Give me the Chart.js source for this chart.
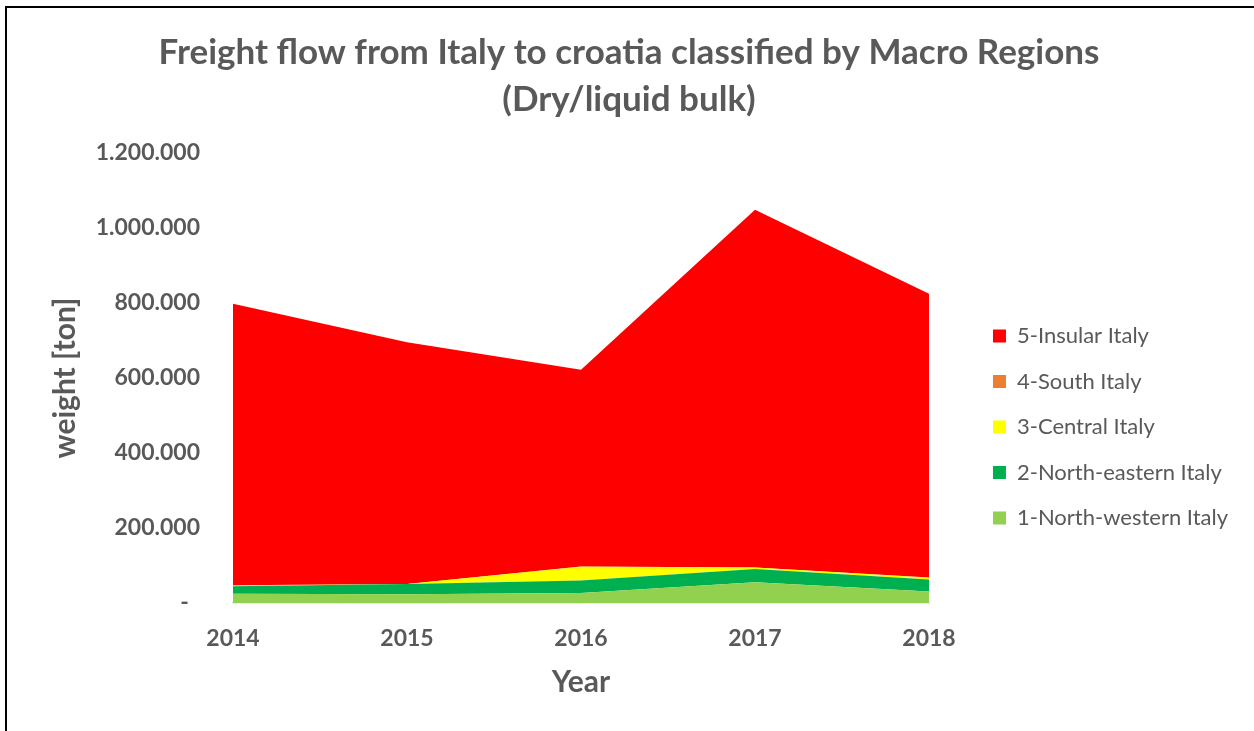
<!DOCTYPE html>
<html>
<head>
<meta charset="utf-8">
<script src="https://cdn.jsdelivr.net/npm/chart.js@4"></script>
<style>
  html, body { margin: 0; overflow: hidden; background: #fff; }
  #marco { position: absolute; left: 5px; top: 6px; width: 1300px; height: 800px; border-left: 2px solid #000; border-top: 2px solid #000; }
  #contenedor { position: absolute; left: 0; top: 0; width: 1254px; height: 731px; }
</style>
</head>
<body>
<div id="marco"></div>
<div id="contenedor"><canvas id="graficoareas"></canvas></div>
<script>
// toneladas por año y macro región (áreas apiladas)
const anios = ['2014', '2015', '2016', '2017', '2018'];
const noroeste = [24500, 23500, 27000, 55500, 31000];
const noreste = [20300, 27500, 33000, 35500, 32000];
const centro = [1500, 0, 37000, 3500, 4500];
const sur = [1000, 0, 500, 500, 500];
const insular = [750700, 644500, 524500, 953500, 756500];

const gris = '#595959';
const margenDerecho = 16;
Chart.defaults.font.family = 'Lato';
Chart.defaults.color = gris;

function puntos(v) {
    if (v === 0) return '-  ';
    return String(v).replace(/\B(?=(\d{3})+(?!\d))/g, '.');
}

function serie(label, data, color, fill) {
    return {
        label: label,
        data: data,
        backgroundColor: color,
        borderColor: color,
        borderWidth: 0,
        pointRadius: 0,
        pointHoverRadius: 0,
        tension: 0,
        fill: fill
    };
}

const ctx = document.getElementById('graficoareas').getContext('2d');
new Chart(ctx, {
    type: 'line',
    data: {
        labels: anios,
        datasets: [
            serie('1-North-western Italy', noroeste, '#92D050', 'origin'),
            serie('2-North-eastern Italy', noreste, '#00B050', '-1'),
            serie('3-Central Italy', centro, '#FFFF00', '-1'),
            serie('4-South Italy', sur, '#ED7D31', '-1'),
            serie('5-Insular Italy', insular, '#FF0000', '-1')
        ]
    },
    options: {
        responsive: true,
        maintainAspectRatio: false,
        animation: false,
        layout: { padding: { left: 20, right: margenDerecho, top: 0, bottom: 0 } },
        plugins: {
            title: {
                display: true,
                text: ['Freight flow from Italy to croatia classified by Macro Regions', '(Dry/liquid bulk)'],
                color: gris,
                font: { size: 35, weight: 'bold', lineHeight: 47 / 35 },
                padding: { top: 29.5, bottom: 29.5 }
            },
            legend: {
                position: 'right',
                align: 'start',
                reverse: true,
                maxWidth: 400,
                title: { display: true, text: ' ', font: { size: 10 }, padding: { top: 289.5, bottom: 0 } },
                labels: {
                    boxWidth: 13,
                    boxHeight: 13,
                    padding: 23.5,
                    color: gris,
                    font: { size: 22 }
                }
            },
            tooltip: { enabled: false }
        },
        scales: {
            x: {
                grid: { display: false, drawTicks: false },
                border: { display: true, color: '#D9D9D9', width: 1.5 },
                ticks: { padding: 22, font: { size: 23, weight: 'bold' }, color: gris },
                title: { display: true, text: 'Year', color: gris, font: { size: 30, weight: 'bold' }, padding: { top: 0, bottom: 31 } },
                afterFit: s => { s.height = 128; }
            },
            y: {
                stacked: true,
                min: 0,
                max: 1200000,
                grid: { display: false, drawTicks: false },
                border: { display: false },
                ticks: { stepSize: 200000, padding: 33, callback: puntos, font: { size: 23, weight: 'bold' }, color: gris },
                title: { display: true, text: 'weight [ton]', color: gris, font: { size: 30, weight: 'bold' }, padding: { top: 27, bottom: 0 } },
                afterFit: s => { s.width = 213; }
            },
            // hueco entre el área y la leyenda
            hueco: {
                type: 'linear',
                position: 'right',
                grid: { display: false, drawTicks: false },
                border: { display: false },
                ticks: { display: false },
                afterFit: s => { s.width = s.chart.width - margenDerecho - s.chart.legend.width - 929; }
            }
        }
    }
});
</script>
</body>
</html>
